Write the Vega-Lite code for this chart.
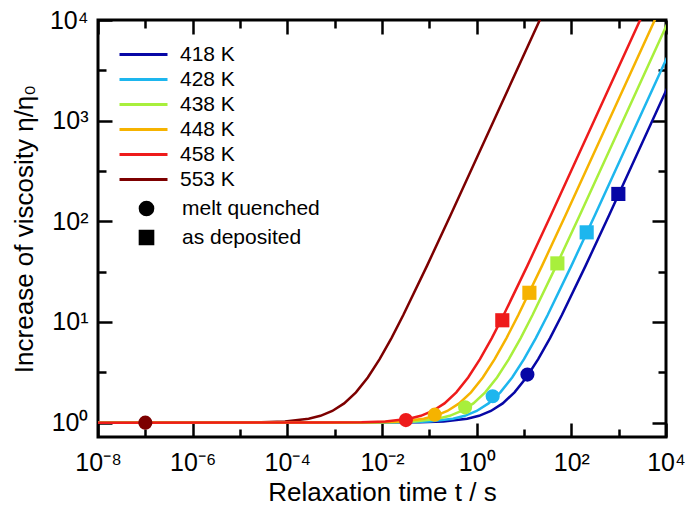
{
  "$schema": "https://vega.github.io/schema/vega-lite/v6.json",
  "width": 568,
  "height": 417,
  "autosize": {"type": "none"},
  "padding": {"left": 98, "top": 20, "right": 19, "bottom": 72},
  "config": {
    "font": "Liberation Sans",
    "view": {"stroke": "black", "strokeWidth": 3},
    "axis": {"domain": false, "grid": false, "tickColor": "black", "tickWidth": 2.5, "labelColor": "black", "titleColor": "black", "labelFont": "Liberation Sans", "titleFont": "Liberation Sans", "labelFontSize": 25, "titleFontSize": 26, "titleFontWeight": "normal", "labelFlush": false, "labelOverlap": false},
    "legend": {"labelFont": "Liberation Sans", "labelFontSize": 21, "labelColor": "black"}
  },
  "datasets": {
    "curves": [
      {"T": "553 K", "t": 1e-8, "eta": 1},
      {"T": "553 K", "t": 2.818e-6, "eta": 1.0008},
      {"T": "553 K", "t": 2.818e-5, "eta": 1.0087},
      {"T": "553 K", "t": 8.913e-5, "eta": 1.0285},
      {"T": "553 K", "t": 2.818e-4, "eta": 1.0933},
      {"T": "553 K", "t": 5.012e-4, "eta": 1.169},
      {"T": "553 K", "t": 8.913e-4, "eta": 1.3055},
      {"T": "553 K", "t": 1.585e-3, "eta": 1.553},
      {"T": "553 K", "t": 2.818e-3, "eta": 2},
      {"T": "553 K", "t": 5.012e-3, "eta": 2.809},
      {"T": "553 K", "t": 8.913e-3, "eta": 4.273},
      {"T": "553 K", "t": 1.585e-2, "eta": 6.923},
      {"T": "553 K", "t": 2.818e-2, "eta": 11.72},
      {"T": "553 K", "t": 8.913e-2, "eta": 36.08},
      {"T": "553 K", "t": 0.2818, "eta": 115.8},
      {"T": "553 K", "t": 2.818, "eta": 1231},
      {"T": "553 K", "t": 28.18, "eta": 13184},
      {"T": "418 K", "t": 1e-8, "eta": 1},
      {"T": "418 K", "t": 6.310e-3, "eta": 1.0008},
      {"T": "418 K", "t": 6.310e-2, "eta": 1.0087},
      {"T": "418 K", "t": 0.1995, "eta": 1.0285},
      {"T": "418 K", "t": 0.6310, "eta": 1.0933},
      {"T": "418 K", "t": 1.122, "eta": 1.169},
      {"T": "418 K", "t": 1.995, "eta": 1.3055},
      {"T": "418 K", "t": 3.548, "eta": 1.553},
      {"T": "418 K", "t": 6.310, "eta": 2},
      {"T": "418 K", "t": 11.22, "eta": 2.809},
      {"T": "418 K", "t": 19.95, "eta": 4.273},
      {"T": "418 K", "t": 35.48, "eta": 6.923},
      {"T": "418 K", "t": 63.10, "eta": 11.72},
      {"T": "418 K", "t": 199.5, "eta": 36.08},
      {"T": "418 K", "t": 631.0, "eta": 115.8},
      {"T": "418 K", "t": 6310, "eta": 1231},
      {"T": "418 K", "t": 63100, "eta": 13184},
      {"T": "428 K", "t": 1e-8, "eta": 1},
      {"T": "428 K", "t": 3.162e-3, "eta": 1.0008},
      {"T": "428 K", "t": 3.162e-2, "eta": 1.0087},
      {"T": "428 K", "t": 0.1, "eta": 1.0285},
      {"T": "428 K", "t": 0.3162, "eta": 1.0933},
      {"T": "428 K", "t": 0.5623, "eta": 1.169},
      {"T": "428 K", "t": 1, "eta": 1.3055},
      {"T": "428 K", "t": 1.778, "eta": 1.553},
      {"T": "428 K", "t": 3.162, "eta": 2},
      {"T": "428 K", "t": 5.623, "eta": 2.809},
      {"T": "428 K", "t": 10, "eta": 4.273},
      {"T": "428 K", "t": 17.78, "eta": 6.923},
      {"T": "428 K", "t": 31.62, "eta": 11.72},
      {"T": "428 K", "t": 100, "eta": 36.08},
      {"T": "428 K", "t": 316.2, "eta": 115.8},
      {"T": "428 K", "t": 3162, "eta": 1231},
      {"T": "428 K", "t": 31620, "eta": 13184},
      {"T": "438 K", "t": 1e-8, "eta": 1},
      {"T": "438 K", "t": 1.514e-3, "eta": 1.0008},
      {"T": "438 K", "t": 1.514e-2, "eta": 1.0087},
      {"T": "438 K", "t": 4.786e-2, "eta": 1.0285},
      {"T": "438 K", "t": 0.1514, "eta": 1.0933},
      {"T": "438 K", "t": 0.2692, "eta": 1.169},
      {"T": "438 K", "t": 0.4786, "eta": 1.3055},
      {"T": "438 K", "t": 0.8511, "eta": 1.553},
      {"T": "438 K", "t": 1.514, "eta": 2},
      {"T": "438 K", "t": 2.692, "eta": 2.809},
      {"T": "438 K", "t": 4.786, "eta": 4.273},
      {"T": "438 K", "t": 8.511, "eta": 6.923},
      {"T": "438 K", "t": 15.14, "eta": 11.72},
      {"T": "438 K", "t": 47.86, "eta": 36.08},
      {"T": "438 K", "t": 151.4, "eta": 115.8},
      {"T": "438 K", "t": 1514, "eta": 1231},
      {"T": "438 K", "t": 15140, "eta": 13184},
      {"T": "448 K", "t": 1e-8, "eta": 1},
      {"T": "448 K", "t": 7.586e-4, "eta": 1.0008},
      {"T": "448 K", "t": 7.586e-3, "eta": 1.0087},
      {"T": "448 K", "t": 2.399e-2, "eta": 1.0285},
      {"T": "448 K", "t": 7.586e-2, "eta": 1.0933},
      {"T": "448 K", "t": 0.1349, "eta": 1.169},
      {"T": "448 K", "t": 0.2399, "eta": 1.3055},
      {"T": "448 K", "t": 0.4266, "eta": 1.553},
      {"T": "448 K", "t": 0.7586, "eta": 2},
      {"T": "448 K", "t": 1.349, "eta": 2.809},
      {"T": "448 K", "t": 2.399, "eta": 4.273},
      {"T": "448 K", "t": 4.266, "eta": 6.923},
      {"T": "448 K", "t": 7.586, "eta": 11.72},
      {"T": "448 K", "t": 23.99, "eta": 36.08},
      {"T": "448 K", "t": 75.86, "eta": 115.8},
      {"T": "448 K", "t": 758.6, "eta": 1231},
      {"T": "448 K", "t": 7586, "eta": 13184},
      {"T": "458 K", "t": 1e-8, "eta": 1},
      {"T": "458 K", "t": 3.715e-4, "eta": 1.0008},
      {"T": "458 K", "t": 3.715e-3, "eta": 1.0087},
      {"T": "458 K", "t": 1.175e-2, "eta": 1.0285},
      {"T": "458 K", "t": 3.715e-2, "eta": 1.0933},
      {"T": "458 K", "t": 6.607e-2, "eta": 1.169},
      {"T": "458 K", "t": 0.1175, "eta": 1.3055},
      {"T": "458 K", "t": 0.2089, "eta": 1.553},
      {"T": "458 K", "t": 0.3715, "eta": 2},
      {"T": "458 K", "t": 0.6607, "eta": 2.809},
      {"T": "458 K", "t": 1.175, "eta": 4.273},
      {"T": "458 K", "t": 2.089, "eta": 6.923},
      {"T": "458 K", "t": 3.715, "eta": 11.72},
      {"T": "458 K", "t": 11.75, "eta": 36.08},
      {"T": "458 K", "t": 37.15, "eta": 115.8},
      {"T": "458 K", "t": 371.5, "eta": 1231},
      {"T": "458 K", "t": 3715, "eta": 13184}
    ],
    "markers": [
      {"T": "553 K", "type": "melt quenched", "t": 1e-7, "eta": 1.0},
      {"T": "458 K", "type": "melt quenched", "t": 0.032, "eta": 1.06},
      {"T": "448 K", "type": "melt quenched", "t": 0.13, "eta": 1.2},
      {"T": "438 K", "type": "melt quenched", "t": 0.57, "eta": 1.42},
      {"T": "428 K", "type": "melt quenched", "t": 2.18, "eta": 1.83},
      {"T": "418 K", "type": "melt quenched", "t": 11.8, "eta": 3.0},
      {"T": "458 K", "type": "as deposited", "t": 3.48, "eta": 10.4},
      {"T": "448 K", "type": "as deposited", "t": 13, "eta": 19.5},
      {"T": "438 K", "type": "as deposited", "t": 50.7, "eta": 38.2},
      {"T": "428 K", "type": "as deposited", "t": 211, "eta": 77.7},
      {"T": "418 K", "type": "as deposited", "t": 984, "eta": 187}
    ]
  },
  "layer": [
    {
      "data": {"name": "curves"},
      "mark": {"type": "line", "strokeWidth": 2.5, "clip": true},
      "encoding": {
        "x": {"field": "t", "type": "quantitative",
          "scale": {"type": "log", "domain": [1e-8, 10000], "nice": false},
          "axis": {"orient": "bottom", "values": [1e-8, 1e-6, 1e-4, 0.01, 1, 100, 10000], "tickSize": -14, "labelPadding": 27, "title": "Relaxation time t / s", "titlePadding": 4,
            "labelExpr": "datum.value < 1e-7 ? '10⁻⁸' : datum.value < 1e-5 ? '10⁻⁶' : datum.value < 1e-3 ? '10⁻⁴' : datum.value < 0.1 ? '10⁻²' : datum.value < 10 ? '10⁰' : datum.value < 1000 ? '10²' : '10⁴'"}},
        "y": {"field": "eta", "type": "quantitative",
          "scale": {"type": "log", "domain": [0.72, 10000], "nice": false},
          "axis": {"orient": "left", "values": [1, 10, 100, 1000, 10000], "tickSize": -14, "labelPadding": 24, "title": "Increase of viscosity η/η₀", "titlePadding": 12,
            "labelExpr": "datum.value < 5 ? '10⁰' : datum.value < 50 ? '10¹' : datum.value < 500 ? '10²' : datum.value < 5000 ? '10³' : '10⁴'"}},
        "color": {"field": "T", "type": "nominal",
          "scale": {"domain": ["418 K", "428 K", "438 K", "448 K", "458 K", "553 K"], "range": ["#0707a6", "#1db6ee", "#a8ef3c", "#f6b300", "#ee1b1b", "#7d0000"]},
          "legend": {"orient": "none", "legendX": 35, "legendY": 24, "title": null, "symbolType": "M-4,0H4", "symbolSize": 144, "symbolStrokeWidth": 3, "labelOffset": 26, "rowPadding": 3}}
      }
    },
    {
      "data": {"name": "markers"},
      "mark": {"type": "point", "filled": true, "opacity": 1, "size": 200},
      "encoding": {
        "x": {"field": "t", "type": "quantitative",
          "axis": {"orient": "bottom", "values": [1e-7, 1e-5, 0.001, 0.1, 10, 1000], "tickSize": -8, "labels": false, "title": null}},
        "y": {"field": "eta", "type": "quantitative",
          "axis": {"orient": "left", "values": [3.162, 31.62, 316.2, 3162], "tickSize": -8, "labels": false, "title": null}},
        "color": {"field": "T", "type": "nominal"},
        "shape": {"field": "type", "type": "nominal",
          "scale": {"domain": ["melt quenched", "as deposited"], "range": ["circle", "square"]},
          "legend": {"orient": "none", "legendX": 38, "legendY": 178, "title": null, "symbolFillColor": "black", "symbolStrokeColor": "black", "symbolSize": 200, "labelOffset": 25, "rowPadding": 7}}
      }
    },
    {
      "data": {"name": "markers"},
      "mark": {"type": "point", "opacity": 0},
      "encoding": {
        "x": {"field": "t", "type": "quantitative",
          "axis": {"orient": "top", "values": [1e-8, 1e-6, 1e-4, 0.01, 1, 100, 10000], "tickSize": -14, "labels": false, "title": null}},
        "y": {"field": "eta", "type": "quantitative",
          "axis": {"orient": "right", "values": [1, 10, 100, 1000, 10000], "tickSize": -14, "labels": false, "title": null}}
      }
    },
    {
      "data": {"name": "markers"},
      "mark": {"type": "point", "opacity": 0},
      "encoding": {
        "x": {"field": "t", "type": "quantitative",
          "axis": {"orient": "top", "values": [1e-7, 1e-5, 0.001, 0.1, 10, 1000], "tickSize": -8, "labels": false, "title": null}},
        "y": {"field": "eta", "type": "quantitative",
          "axis": {"orient": "right", "values": [3.162, 31.62, 316.2, 3162], "tickSize": -8, "labels": false, "title": null}}
      }
    }
  ],
  "resolve": {"axis": {"x": "independent", "y": "independent"}}
}
